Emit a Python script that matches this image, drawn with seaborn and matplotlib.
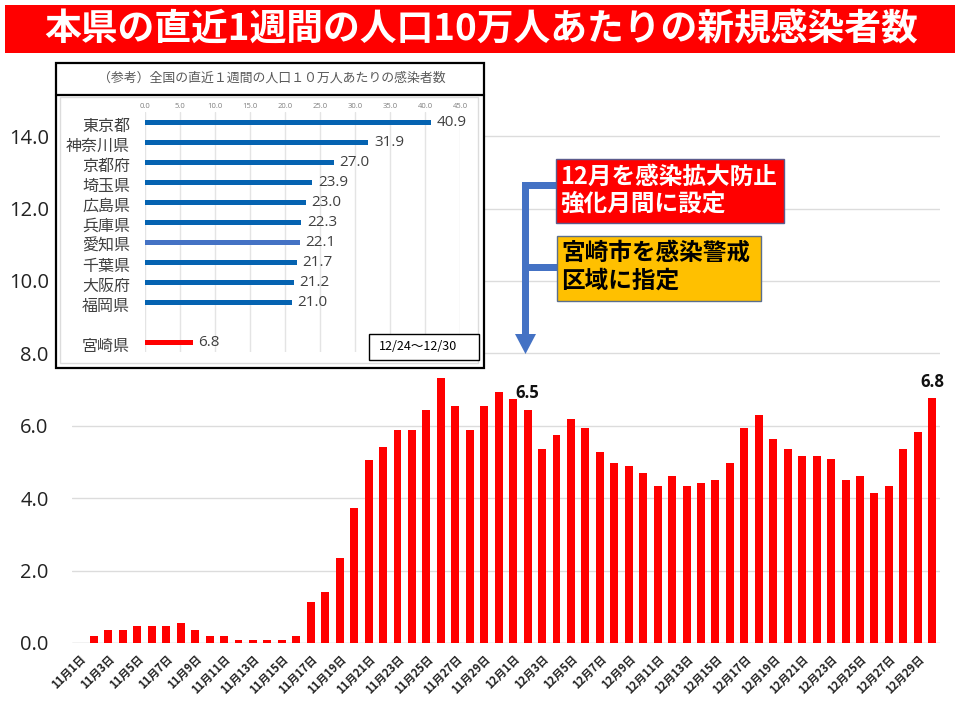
import matplotlib
matplotlib.use('Agg')
import matplotlib.pyplot as plt
from matplotlib.patches import Rectangle, Polygon
from matplotlib.transforms import ScaledTranslation
import pandas as pd
import seaborn as sns

# daily rate, Nov 1 - Dec 30
nov_values = [0, 0.19, 0.37, 0.37, 0.47, 0.47, 0.47, 0.56, 0.37, 0.19,
              0.19, 0.09, 0.09, 0.09, 0.09, 0.19, 1.12, 1.40, 2.34, 3.74,
              5.05, 5.42, 5.89, 5.89, 6.45, 7.33, 6.55, 5.89, 6.55, 6.92]
dec_values = [6.73, 6.45, 5.35, 5.74, 6.20, 5.93, 5.27, 4.96, 4.88, 4.69,
              4.33, 4.61, 4.33, 4.41, 4.50, 4.96, 5.93, 6.29, 5.63, 5.35,
              5.16, 5.16, 5.07, 4.50, 4.61, 4.14, 4.33, 5.35, 5.82, 6.76]
day_labels = [f'11月{d}日' for d in range(1, 31)] + [f'12月{d}日' for d in range(1, 31)]
y_ticks = [0, 2, 4, 6, 8, 10, 12, 14]
callouts = {'12月2日': '6.5', '12月30日': '6.8'}

# inset: prefectures, 12/24-12/30
pref_names = ['東京都', '神奈川県', '京都府', '埼玉県', '広島県', '兵庫県',
              '愛知県', '千葉県', '大阪府', '福岡県', '宮崎県']
pref_values = [40.9, 31.9, 27.0, 23.9, 23.0, 22.3, 22.1, 21.7, 21.2, 21.0, 6.8]
pref_colors = ['#0563B1'] * 6 + ['#4472C4'] + ['#0563B1'] * 3 + ['#FF0000']
pref_ticks = [0, 5, 10, 15, 20, 25, 30, 35, 40, 45]

TITLE = '本県の直近1週間の人口10万人あたりの新規感染者数'
INSET_TITLE = '（参考）全国の直近１週間の人口１０万人あたりの感染者数'
GRID = '#DCDCDC'
LATIN = 'Open Sans'
W, H = 960, 720


def axes_px(fig, left, top, right, bottom, **kw):
    # pixel box, measured from the top left of the image
    return fig.add_axes([left / W, 1 - bottom / H, (right - left) / W, (bottom - top) / H], **kw)


sns.set_style('white')
plt.rcParams['font.family'] = ['Noto Sans CJK JP', 'DejaVu Sans']

fig = plt.figure(figsize=(9.6, 7.2), dpi=100)

# main chart
ax = axes_px(fig, 72.3, 100, 939.5, 643)
df = pd.DataFrame({'day': day_labels, 'value': nov_values + dec_values})
sns.barplot(data=df, x='day', y='value', color='#FF0000', saturation=1, width=0.55,
            edgecolor='none', linewidth=0, ax=ax, zorder=3)
ax.set_ylim(0, 15)
ax.set_xlim(-0.5, len(day_labels) - 0.5)
ax.set_yticks(y_ticks)
ax.set_yticklabels([f'{v:.1f}' for v in y_ticks], family=LATIN, fontsize=14.5, color='#222222')
ax.set_xticks(range(0, len(day_labels) - 1, 2))
ax.set_xticklabels(day_labels[:-1:2], rotation=45, ha='right', va='top', rotation_mode='anchor',
                   fontsize=8, fontweight='bold', color='#222222')
ax.tick_params(axis='x', length=0, pad=7)
ax.tick_params(axis='y', length=0, pad=17)
ax.set_xlabel('')
ax.set_ylabel('')
ax.grid(axis='y', color=GRID, linewidth=1.0, zorder=0)
ax.set_axisbelow(True)
sns.despine(ax=ax, left=True, top=True, right=True, bottom=True)
ax.axhline(0, color=GRID, linewidth=1.0, zorder=1)
for day, text in callouts.items():
    pos = day_labels.index(day)
    ax.annotate(text, (pos, df['value'][pos]), xytext=(0, 12), textcoords='offset points',
                ha='center', va='center', fontsize=12, fontweight='bold', family=LATIN,
                color='#111111', zorder=5)

# overlay in pixel coordinates: banner, notes, arrow, inset frame
over = axes_px(fig, 0, 0, W, H)
over.set_xlim(0, W)
over.set_ylim(H, 0)
over.axis('off')
over.patch.set_alpha(0)

over.add_patch(Rectangle((5, 5), 950, 48, facecolor='#FF0000', edgecolor='none'))
over.text(481, 30, TITLE, color='white', fontsize=26.5, fontweight='bold', ha='center', va='center')

blue = '#4472C4'
over.add_patch(Rectangle((522, 182), 7, 155, facecolor=blue, edgecolor='none'))
over.add_patch(Rectangle((522, 182), 34, 6.5, facecolor=blue, edgecolor='none'))
over.add_patch(Rectangle((529, 264), 28, 6.5, facecolor=blue, edgecolor='none'))
over.add_patch(Polygon([(515, 334), (536, 334), (525.5, 354)], facecolor=blue, edgecolor='none'))

over.add_patch(Rectangle((555.5, 158.5), 228.5, 64, facecolor='#FF0000', edgecolor='#5B5B8C', linewidth=1))
over.add_patch(Rectangle((556.5, 235.5), 204, 65, facecolor='#FFC000', edgecolor='#5A6E8C', linewidth=1))
over.text(560, 176.5, '12月を感染拡大防止', color='white', fontsize=17, fontweight='bold', ha='left', va='center')
over.text(560, 204, '強化月間に設定', color='white', fontsize=17, fontweight='bold', ha='left', va='center')
over.text(561, 253, '宮崎市を感染警戒', color='black', fontsize=17, fontweight='bold', ha='left', va='center')
over.text(561, 281, '区域に指定', color='black', fontsize=17, fontweight='bold', ha='left', va='center')

over.add_patch(Rectangle((56, 63), 428, 305, facecolor='white', edgecolor='black', linewidth=1.6, zorder=4))
over.plot([56, 484], [94.5, 94.5], color='black', linewidth=1.6, zorder=5)
over.add_patch(Rectangle((60, 97), 417.5, 266, facecolor='white', edgecolor=GRID, linewidth=1, zorder=5))
over.text(272, 78, INSET_TITLE, color='#595959', fontsize=9.3, ha='center', va='center', zorder=6)

# inset chart
inset = axes_px(fig, 145.3, 112.3, 460, 352.3)
inset.patch.set_alpha(0)
pref_df = pd.DataFrame({'pref': pref_names, 'value': pref_values})
order = pref_names[:-1] + [''] + pref_names[-1:]
sns.barplot(data=pref_df, y='pref', x='value', hue='pref', order=order, hue_order=pref_names,
            palette=pref_colors, saturation=1, width=0.27, dodge=False, legend=False,
            edgecolor='none', linewidth=0, ax=inset, zorder=3)
inset.set_xlim(0, 45)
inset.set_ylim(len(order) - 0.5, -0.5)
inset.set_xticks(pref_ticks)
inset.set_xticklabels([f'{v:.1f}' for v in pref_ticks], family=LATIN, fontsize=5.5, color='#7F7F7F')
inset.xaxis.tick_top()
inset.tick_params(axis='x', length=0, pad=2)
inset.tick_params(axis='y', length=0, pad=11, labelsize=11.5, labelcolor='#404040')
inset.set_xlabel('')
inset.set_ylabel('')
inset.grid(axis='x', color='#E4E4E4', linewidth=1.0, zorder=0)
inset.set_axisbelow(True)
sns.despine(ax=inset, left=True, top=True, right=True, bottom=True)
# names sit a little below their bars
nudge = ScaledTranslation(0, -2 / 100, fig.dpi_scale_trans)
for label in inset.get_yticklabels():
    label.set_transform(label.get_transform() + nudge)
for name, value in zip(pref_names, pref_values):
    inset.annotate(f'{value:.1f}', (value, order.index(name)), xytext=(4, 0), textcoords='offset points',
                   ha='left', va='center', fontsize=11, family=LATIN, color='#404040', zorder=5)

# date box sits on top of the inset plot
over2 = axes_px(fig, 0, 0, W, H)
over2.set_xlim(0, W)
over2.set_ylim(H, 0)
over2.axis('off')
over2.patch.set_alpha(0)
over2.add_patch(Rectangle((368.5, 333.5), 110, 26.5, facecolor='white', edgecolor='black', linewidth=1))
over2.text(418, 346.5, '12/24〜12/30', color='black', fontsize=9, ha='center', va='center')

fig.savefig('out.png', dpi=100)
